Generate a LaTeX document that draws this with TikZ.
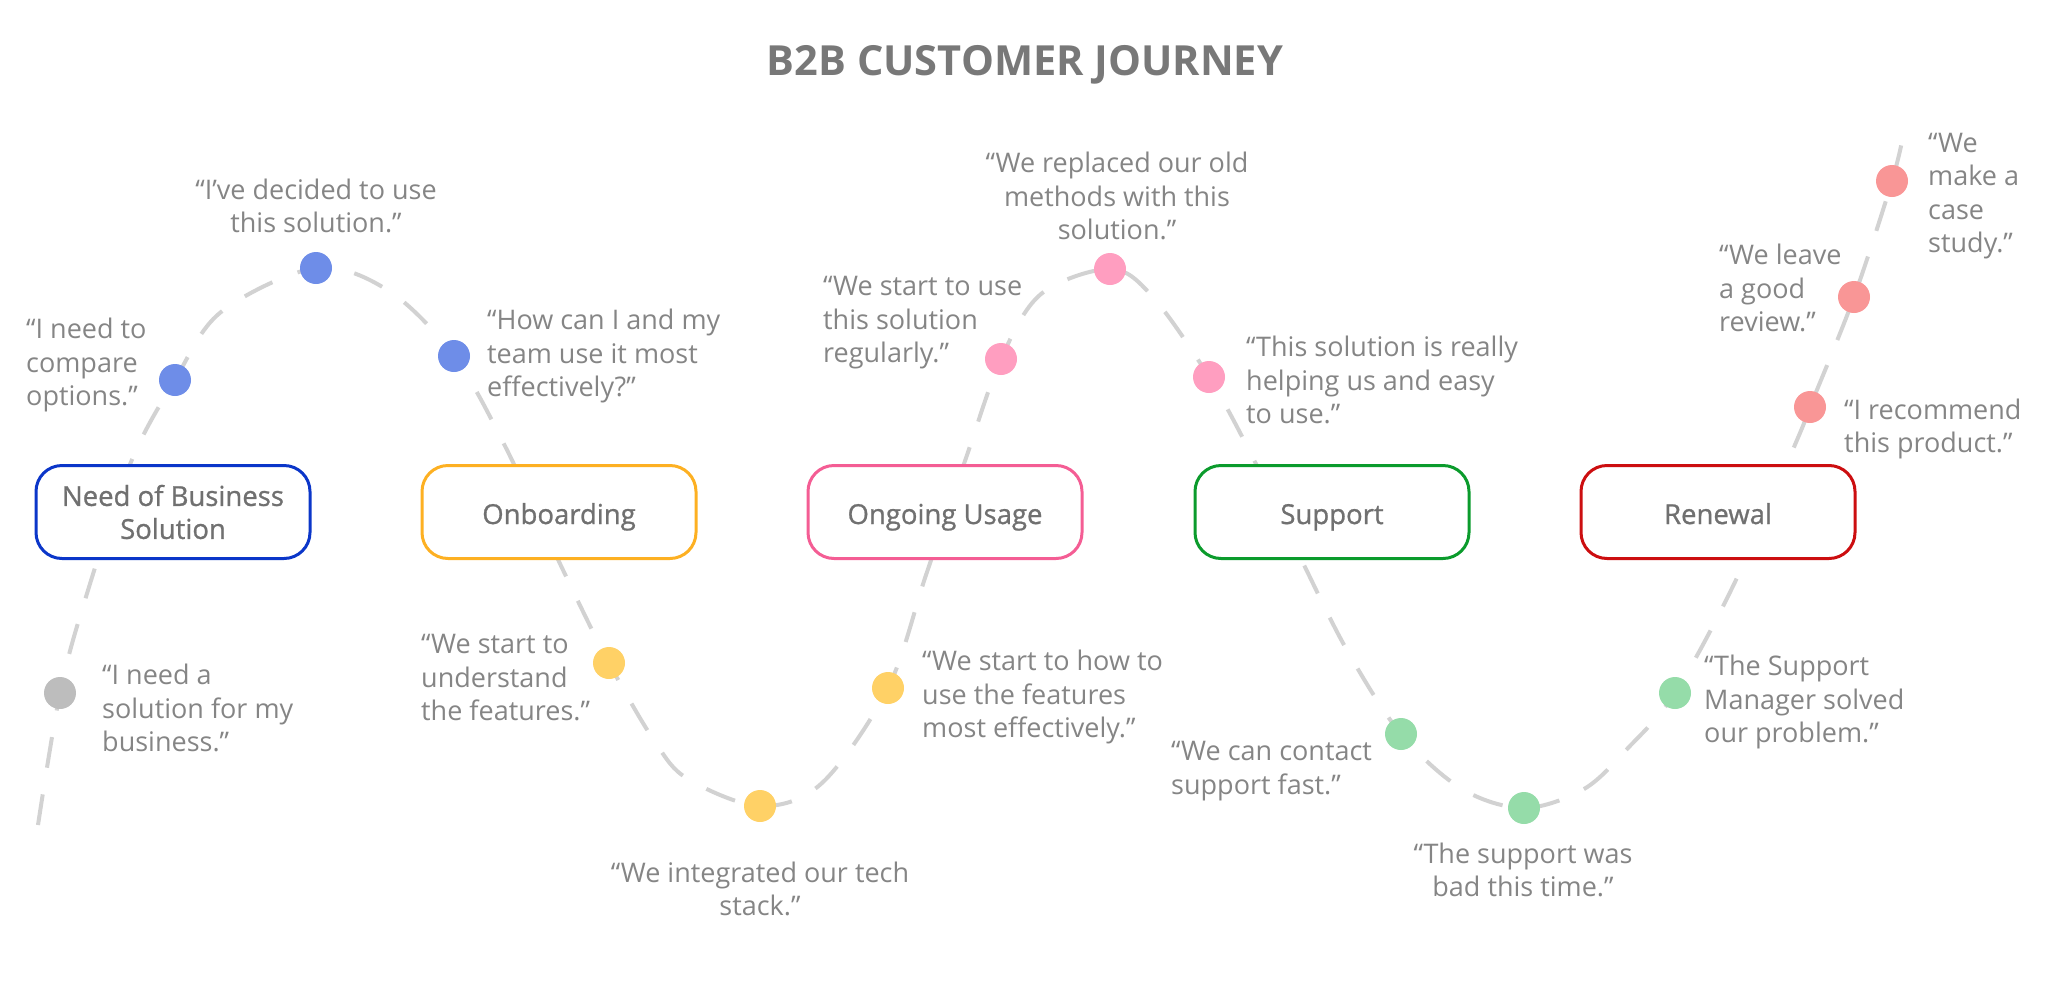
\documentclass[tikz,border=0pt]{standalone}
\usepackage{fontspec}
\setmainfont{Open Sans}
\newfontfamily\medfont{Open Sans}[FakeBold=0.9]
\usetikzlibrary{backgrounds}
\definecolor{curvegray}{HTML}{D2D2D2}
\definecolor{quotegray}{HTML}{858585}
\definecolor{labelgray}{HTML}{707070}
\definecolor{titlegray}{HTML}{787878}
\definecolor{bBlue}{HTML}{0B36C9}
\definecolor{bOrange}{HTML}{FDB022}
\definecolor{bPink}{HTML}{F45D94}
\definecolor{bGreen}{HTML}{0B9B2C}
\definecolor{bRed}{HTML}{CC0E10}
\definecolor{dGray}{HTML}{BDBDBD}
\definecolor{dBlue}{HTML}{6E8DE8}
\definecolor{dYellow}{HTML}{FFD166}
\definecolor{dPink}{HTML}{FF9EC0}
\definecolor{dGreen}{HTML}{95DCA9}
\definecolor{dRed}{HTML}{F99696}
\begin{document}
\begin{tikzpicture}[x=1pt,y=-1pt,
  stage/.style={rounded corners=26pt, minimum width=274pt, minimum height=93pt,
    line width=3pt, fill=white, align=center, text=labelgray, inner sep=0pt,
    font=\medfont\fontsize{27.5}{33}\selectfont},
  oneline/.style={text height=24pt, text depth=0pt},
  dot/.style={circle, inner sep=0pt, minimum size=32pt},
  quote/.style={inner sep=0pt, text=quotegray, font=\fontsize{27}{33.5}\selectfont},
  ql/.style={quote, anchor=west, align=left},
  qc/.style={quote, anchor=center, align=center},
  curve/.style={draw=curvegray, line width=4pt, dash pattern=on 31pt off 27pt}
]
\useasboundingbox (0,0) rectangle (2048,999);

\node[text=titlegray, font=\bfseries\fontsize{41.5}{46}\selectfont, inner sep=0pt] (title) at (1025,65) {B2B CUSTOMER JOURNEY};

% dots
\node[dot, fill=dGray]   (g1)  at (60,693) {};
\node[dot, fill=dBlue]   (b1)  at (175,380) {};
\node[dot, fill=dBlue]   (b2)  at (316,268) {};
\node[dot, fill=dBlue]   (b3)  at (454,356) {};
\node[dot, fill=dYellow] (y1)  at (609,663) {};
\node[dot, fill=dYellow] (y2)  at (760,806) {};
\node[dot, fill=dYellow] (y3)  at (888,688) {};
\node[dot, fill=dPink]   (p1)  at (1001,359) {};
\node[dot, fill=dPink]   (p2)  at (1110,269) {};
\node[dot, fill=dPink]   (p3)  at (1209,377) {};
\node[dot, fill=dGreen]  (gr1) at (1401,734) {};
\node[dot, fill=dGreen]  (gr2) at (1524,808) {};
\node[dot, fill=dGreen]  (gr3) at (1675,693) {};
\node[dot, fill=dRed]    (r1)  at (1810,407) {};
\node[dot, fill=dRed]    (r2)  at (1854,297) {};
\node[dot, fill=dRed]    (r3)  at (1892,181) {};

% stages
\node[stage, draw=bBlue]            (s1) at (173,512) {Need of Business\\Solution};
\node[stage, oneline, draw=bOrange] (s2) at (559,512) {Onboarding};
\node[stage, oneline, draw=bPink]   (s3) at (945,512) {Ongoing Usage};
\node[stage, oneline, draw=bGreen]  (s4) at (1332,512) {Support};
\node[stage, oneline, draw=bRed]    (s5) at (1718,512) {Renewal};

% curve helper points
\coordinate (k0) at (38,825);
\coordinate (k1) at (85,600);
\coordinate (k2) at (131,462);
\coordinate (k3) at (221,312);
\coordinate (k4) at (389,291);
\coordinate (k5) at (505,446);
\coordinate (k6) at (563,570);
\coordinate (k7) at (655,742);
\coordinate (k8) at (688,779);
\coordinate (k9) at (822,783);
\coordinate (k10) at (926,575);
\coordinate (k11) at (966,458);
\coordinate (k12) at (1041,294);
\coordinate (k13) at (1152,296);
\coordinate (k14) at (1255,462);
\coordinate (k15) at (1304,565);
\coordinate (k16) at (1348,652);
\coordinate (k17) at (1462,789);
\coordinate (k18) at (1584,789);
\coordinate (k19) at (1628,748);
\coordinate (k20) at (1735,582);
\coordinate (k21) at (1797,440);
\coordinate (k22) at (1903,136);

\begin{scope}[on background layer]
\draw[curve] plot[smooth, tension=0.55] coordinates {(k0) (g1) (k1) (k2) (b1) (k3) (b2) (k4) (b3) (k5) (k6) (y1) (k7) (k8) (y2) (k9) (y3) (k10) (k11) (p1) (k12) (p2) (k13) (p3) (k14) (k15) (k16) (gr1) (k17) (gr2) (k18) (k19) (gr3) (k20) (k21) (r1) (r2) (r3) (k22)};
\end{scope}

% quotes
\node[ql] (q1)  at (102,708) {“I need a\\solution for my\\business.”};
\node[ql] (q2)  at (26,365) {“I need to\\compare\\options.”};
\node[qc] (q3)  at (316,206) {“I’ve decided to use\\this solution.”};
\node[ql] (q4)  at (487,356) {“How can I and my\\team use it most\\effectively?”};
\node[ql] (q5)  at (421,678) {“We start to\\understand\\the features.”};
\node[qc] (q6)  at (760,889) {“We integrated our tech\\stack.”};
\node[ql] (q7)  at (922,697) {“We start to how to\\use the features\\most effectively.”};
\node[ql] (q8)  at (823,323) {“We start to use\\this solution\\regularly.”};
\node[qc] (q9)  at (1117,196) {“We replaced our old\\methods with this\\solution.”};
\node[ql] (q10) at (1246,380) {“This solution is really\\helping us and easy\\to use.”};
\node[ql] (q11) at (1171,771) {“We can contact\\support fast.”};
\node[qc] (q12) at (1523,870) {“The support was\\bad this time.”};
\node[ql] (q13) at (1704,702) {“The Support\\Manager solved\\our problem.”};
\node[ql] (q14) at (1844,429) {“I recommend\\this product.”};
\node[ql] (q15) at (1719,288) {“We leave\\a good\\review.”};
\node[ql] (q16) at (1928,196) {“We\\make a\\case\\study.”};
\end{tikzpicture}
\end{document}
